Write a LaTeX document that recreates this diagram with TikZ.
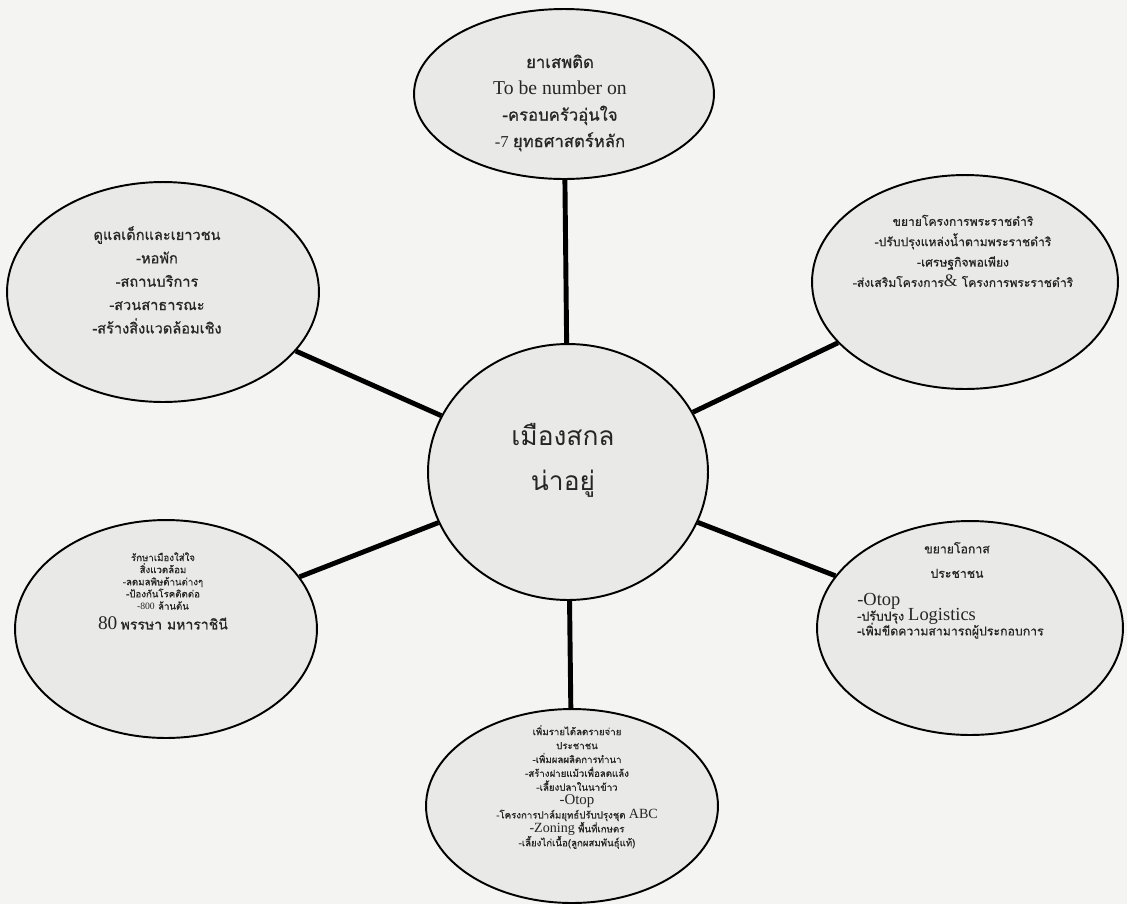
\documentclass[tikz,border=0pt]{standalone}
\usepackage{fontspec}
\setmainfont{Liberation Serif}
\newfontfamily\thai[Script=Thai,FakeBold=0.8]{Loma}
\newfontfamily\thaireg[Script=Thai]{Loma}
\usetikzlibrary{shapes.geometric}
\definecolor{bg}{HTML}{F4F4F3}
\definecolor{ellfill}{HTML}{E9E9E8}
\newcommand\fs[2]{\fontsize{#1}{#2}\selectfont}
\begin{document}
\begin{tikzpicture}[x=0.02cm,y=-0.02cm,
  bubble/.style={ellipse, draw=black, line width=1.1pt, fill=ellfill, inner sep=0pt},
  link/.style={line width=2.8pt, black},
  txt/.style={align=center, inner sep=0pt, text=black!85}]
\fill[bg] (0,0) rectangle (1127,904);
\useasboundingbox (0,0) rectangle (1127,904);
% bubbles
\node[bubble, minimum width=6cm, minimum height=3.4cm] (t) at (564,94) {};
\node[bubble, minimum width=6.24cm, minimum height=4.4cm] (lt) at (163,292) {};
\node[bubble, minimum width=6.12cm, minimum height=4.28cm] (rt) at (965,282) {};
\node[bubble, minimum width=5.6cm, minimum height=5.12cm] (c) at (568,472) {};
\node[bubble, minimum width=6.04cm, minimum height=4.36cm] (lb) at (166,629) {};
\node[bubble, minimum width=6.12cm, minimum height=4.28cm] (rb) at (970,628) {};
\node[bubble, minimum width=5.84cm, minimum height=3.88cm] (b) at (572,806) {};
% connectors
\draw[link] (c) -- (t);
\draw[link] (c) -- (lt);
\draw[link] (c) -- (rt);
\draw[link] (c) -- (lb);
\draw[link] (c) -- (rb);
\draw[link] (c) -- (b);
% texts
\node[txt, font={\fs{9.5}{15}}] (tt) at (560,103)
  {{\thai ยาเสพติด}\\ {\fs{11.2}{15}To be number on}\\ {\thai -ครอบครัวอุ่นใจ}\\ -7 {\thai ยุทธศาสตร์หลัก}};
\node[txt, font={\thai\fs{8.3}{13.3}}] (ltt) at (157,280)
  {ดูแลเด็กและเยาวชน\\ -หอพัก\\ -สถานบริการ\\ -สวนสาธารณะ\\ -สร้างสิ่งแวดล้อมเชิง};
\node[txt, font={\thai\fs{6.9}{11.6}}] (rtt) at (963,251)
  {ขยายโครงการพระราชดำริ\\ -ปรับปรุงแหล่งน้ำตามพระราชดำริ\\ -เศรษฐกิจพอเพียง\\ -ส่งเสริมโครงการ{\rmfamily\fs{10}{11.6}\&} โครงการพระราชดำริ};
\node[txt, font={\thaireg\fs{15}{25.5}}] (ct) at (563,460) {เมืองสกล\\ น่าอยู่};
\node[txt, font={\thai\fs{5.5}{6.9}}] (lbt) at (163,591)
  {รักษาเมืองใส่ใจ\\ สิ่งแวดล้อม\\ -ลดมลพิษด้านต่างๆ\\ -ป้องกันโรคติดต่อ\\ {\rmfamily -800} ล้านต้น\\[3pt] {\rmfamily\fs{11}{6.9}80} {\fs{8}{6.9}พรรษา มหาราชินี}};
\node[txt, font={\thai\fs{7}{14}}] (rbt1) at (957,560) {ขยายโอกาส\\ ประชาชน};
\node[txt, align=left, anchor=west, font={\thai\fs{7}{8.5}\lineskiplimit=-20pt}] (rbt2) at (857,616)
  {{\rmfamily\fs{10.5}{8.5}-Otop}\\ -ปรับปรุง {\rmfamily\fs{10.5}{8.5}Logistics}\\ -เพิ่มขีดความสามารถผู้ประกอบการ};
\node[txt, font={\thai\fs{5.5}{7.9}\lineskiplimit=-20pt}] (bt) at (577,787)
  {เพิ่มรายได้ลดรายจ่าย\\ ประชาชน\\ -เพิ่มผลผลิตการทำนา\\ -สร้างฝายแม้วเพื่อลดแล้ง\\ -เลี้ยงปลาในนาข้าว\\ {\rmfamily\fs{8.5}{7.9}-Otop}\\ -โครงการปาล์มยุทธ์ปรับปรุงชุด {\rmfamily\fs{8}{7.9}ABC}\\ {\rmfamily\fs{8}{7.9}-Zoning} พื้นที่เกษตร\\ -เลี้ยงไก่เนื้อ(ลูกผสมพันธุ์แท้)};
\end{tikzpicture}
\end{document}
